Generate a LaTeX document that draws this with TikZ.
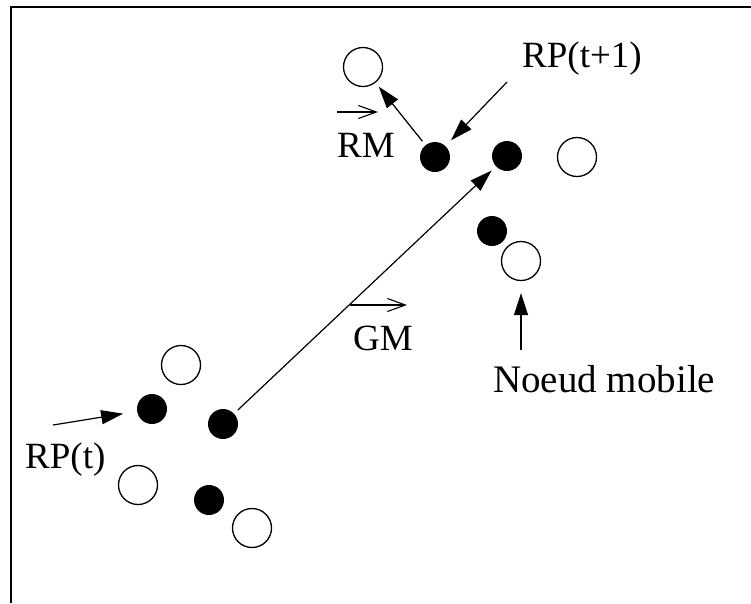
\documentclass[tikz,border=0pt]{standalone}
\usepackage{fontspec}
\setmainfont{Liberation Serif}
\usetikzlibrary{arrows.meta}
\begin{document}
\begin{tikzpicture}[x=1pt,y=-1pt,
  opencirc/.style={circle,draw,line width=1.3pt,minimum size=39pt,inner sep=0pt},
  fullcirc/.style={circle,fill=black,minimum size=30pt,inner sep=0pt},
  lab/.style={anchor=base west,inner sep=0pt,font=\fontsize{37}{44}\selectfont},
  conn/.style={line width=1.2pt,-{Triangle[length=22pt,width=14pt]}},
  vec/.style={line width=1.1pt,-{Straight Barb[length=18pt,width=13pt,line width=1.1pt]}},
  frame/.style={line width=2pt}]
\useasboundingbox (0,0) rectangle (751,603);
\draw[frame] (10.5,603) -- (10.5,6.5) -- (751,6.5);
% circles upper
\node[opencirc] (o1) at (363,67) {};
\node[fullcirc] (f1) at (435,157) {};
\node[fullcirc] (f2) at (507,156) {};
\node[opencirc] (o2) at (577,157) {};
\node[fullcirc] (f3) at (492,231) {};
\node[opencirc] (o3) at (521,261) {};
% circles lower
\node[opencirc] (o4) at (181,365) {};
\node[fullcirc] (f4) at (152,409) {};
\node[fullcirc] (f5) at (223,424) {};
\node[opencirc] (o5) at (138,485) {};
\node[fullcirc] (f6) at (209,500) {};
\node[opencirc] (o6) at (252,528) {};
% labels
\node[lab] (rpt1) at (522,67) {RP(t+1)};
\node[lab] (rm) at (337,157) {RM};
\node[lab] (gm) at (353,350) {GM};
\node[lab] (rpt) at (25,468) {RP(t)};
\node[lab,font=\fontsize{39}{46}\selectfont] (nm) at (493,392) {Noeud mobile};
% vector arrows
\draw[vec] (337,112) -- (378,112);
\draw[vec] (350,305) -- (407,305);
% connectors
\coordinate (a1) at (507,82);
\coordinate (a2) at (53,425);
\coordinate (a3) at (521,350);
\draw[conn,shorten <=5pt,shorten >=5pt] (f1) -- (o1);
\draw[conn,shorten <=5pt,shorten >=6pt] (f5) -- (f2);
\draw[conn,shorten >=8pt] (a1) -- (f1);
\draw[conn,shorten >=14pt] (a2) -- (f4);
\draw[conn,shorten >=12pt] (a3) -- (o3);
\end{tikzpicture}
\end{document}
